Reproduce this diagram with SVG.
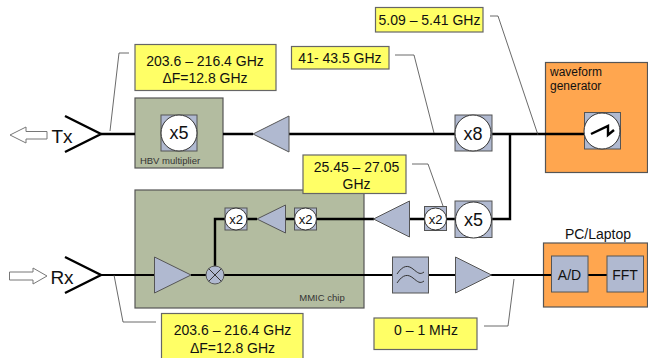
<svg xmlns="http://www.w3.org/2000/svg" width="648" height="358" viewBox="0 0 648 358">
<style>
text{font-family:"Liberation Sans",Arial,sans-serif;fill:#111;text-anchor:middle}
.y{fill:#ffff66;stroke:#666;stroke-width:1.2}
.o{fill:#ffa64f;stroke:#555;stroke-width:1.2}
.g{fill:#b3bca0;stroke:#555;stroke-width:1.2}
.b{fill:#b0b9d0;stroke:#555;stroke-width:1}
.c{fill:#fff;stroke:#333;stroke-width:1}
.w{fill:none;stroke:#000;stroke-width:2.4}
.t{fill:none;stroke:#000;stroke-width:2}
.l{fill:none;stroke:#444;stroke-width:.8}
.a{fill:#fff;stroke:#777;stroke-width:1}
.s{font-size:14px}
.m{font-size:12px}
.x{font-size:18px}
.xs{font-size:13px}
</style>
<g id="panels">
<rect id="hbv" class="g" x="135" y="98" width="88" height="70"/>
<rect id="mmic" class="g" x="135" y="190" width="229" height="118"/>
<rect id="wavegen" class="o" x="545.5" y="62.5" width="102" height="110"/>
<rect id="pc" class="o" x="543.5" y="243" width="104" height="64"/>
</g>
<g id="connectors">
<path class="w" d="M65 116L101 134L65 152"/>
<path class="w" d="M65 257L101 275L65 293"/>
<path class="w" d="M101 134H135M223 134H253M289 134H455M492 134H585"/>
<path class="w" d="M492 219H510V134"/>
<path class="w" d="M225 219H215V268"/>
<path class="w" d="M247 219H257M285 219H294M316 219H374M409 219H424M447 219H455"/>
<path class="t" d="M101 275H154M191 275H206M224 275H392M428 275H455M491 275H551M588 275H607"/>
<path class="l" d="M129 53H119L110 131"/>
<path class="l" d="M490 16H498L538 135"/>
<path class="l" d="M395 55H414L434 133"/>
<path class="l" d="M412 164H428L443 206"/>
<path class="l" d="M156 322H123L114 275"/>
<path class="l" d="M484 326H508L514 279"/>
</g>
<g id="tx"><path class="a" d="M10 135L26 127V131.5H47V139H26V143Z"/><text x="62" y="143" font-size="19">Tx</text></g>
<g id="rx"><path class="a" d="M47 276L33 268V272H9.500V280H33V284Z"/><text x="62" y="284" font-size="19">Rx</text></g>
<g id="label-tx"><rect class="y" x="135" y="44.500" width="141" height="46"/><text class="s" x="205" y="66">203.6 – 216.4 GHz</text><text class="s" x="205" y="83">ΔF=12.8 GHz</text></g>
<g id="label-41"><rect class="y" x="291.500" y="46.500" width="97.500" height="22.500"/><text class="s" x="340" y="63">41- 43.5 GHz</text></g>
<g id="label-5"><rect class="y" x="375.500" y="7.500" width="107.500" height="24.500"/><text class="s" x="429.500" y="25">5.09 – 5.41 GHz</text></g>
<g id="x5-hbv"><rect class="b" x="161" y="115" width="36" height="36"/><circle class="c" cx="179" cy="133" r="18"/><text class="x" x="179" y="139">x5</text><text x="170" y="164" font-size="9.500" style="fill:#333">HBV multiplier</text></g>
<g id="amp-tx"><path class="b" d="M253 134L289 116V152Z"/></g>
<g id="x8"><rect class="b" x="455" y="115" width="37" height="36"/><circle class="c" cx="473" cy="133" r="18"/><text class="x" x="473" y="140">x8</text></g>
<g id="wave"><text class="m" x="550" y="76" style="text-anchor:start">waveform</text><text class="m" x="550" y="90" style="text-anchor:start">generator</text><rect class="b" x="584.500" y="112.500" width="36" height="36.500"/><circle class="c" cx="602" cy="131" r="18"/><path class="w" d="M591 134L608 126V135L614 130"/></g>
<g id="label-25"><rect class="y" x="303" y="155" width="103" height="38.500"/><text class="s" x="356.500" y="172">25.45 – 27.05</text><text class="s" x="356.500" y="189">GHz</text></g>
<g id="x5-low"><rect class="b" x="455" y="201" width="37" height="36.500"/><circle class="c" cx="473.500" cy="220" r="18"/><text class="x" x="473.500" y="226">x5</text></g>
<g id="x2-out"><rect class="b" x="424.500" y="206.500" width="22" height="24"/><circle class="c" cx="435.500" cy="219" r="11"/><text class="xs" x="435.500" y="224">x2</text></g>
<g id="amp-low"><path class="b" d="M373.500 219L409.500 201V237Z"/></g>
<g id="x2-a"><rect class="b" x="294.500" y="208" width="22" height="22"/><circle class="c" cx="305.500" cy="219" r="11"/><text class="xs" x="305.500" y="224">x2</text></g>
<g id="amp-mmic"><path class="b" d="M257 219L285.500 205V233Z"/></g>
<g id="x2-b"><rect class="b" x="225" y="208" width="22" height="22"/><circle class="c" cx="236" cy="219" r="11"/><text class="xs" x="236" y="224">x2</text></g>
<g id="amp-rx"><path class="b" d="M154.500 257L191 275L154.500 293Z"/></g>
<g id="mixer"><circle class="b" cx="215" cy="275" r="9"/><path d="M208.600 268.600L221.400 281.400M221.400 268.600L208.600 281.400" stroke="#333" stroke-width="1" fill="none"/></g>
<g id="mmic-label"><text x="322" y="301" font-size="9.500" style="fill:#333">MMIC chip</text></g>
<g id="label-rx"><rect class="y" x="161.500" y="313.500" width="141.500" height="50"/><text class="s" x="232.500" y="335">203.6 – 216.4 GHz</text><text class="s" x="232.500" y="353">ΔF=12.8 GHz</text></g>
<g id="filter"><rect class="b" x="392.500" y="257" width="36" height="36"/><path d="M397 274C403 265 408 265 413 269S420 275 424 272M397 283C403 274 408 274 413 278S420 284 424 281" fill="none" stroke="#333" stroke-width="1"/></g>
<g id="amp-if"><path class="b" d="M455.500 257L491.500 275L455.500 293Z"/></g>
<g id="label-if"><rect class="y" x="374" y="318" width="103" height="31.500"/><text class="s" x="426" y="335">0 – 1 MHz</text></g>
<g id="pc-label"><text class="s" x="598" y="239">PC/Laptop</text></g>
<g id="ad"><rect class="b" x="551.500" y="256" width="36.500" height="36"/><text class="s" x="569.500" y="280">A/D</text></g>
<g id="fft"><rect class="b" x="607" y="256" width="36.500" height="36"/><text class="s" x="625" y="280">FFT</text></g>
</svg>
